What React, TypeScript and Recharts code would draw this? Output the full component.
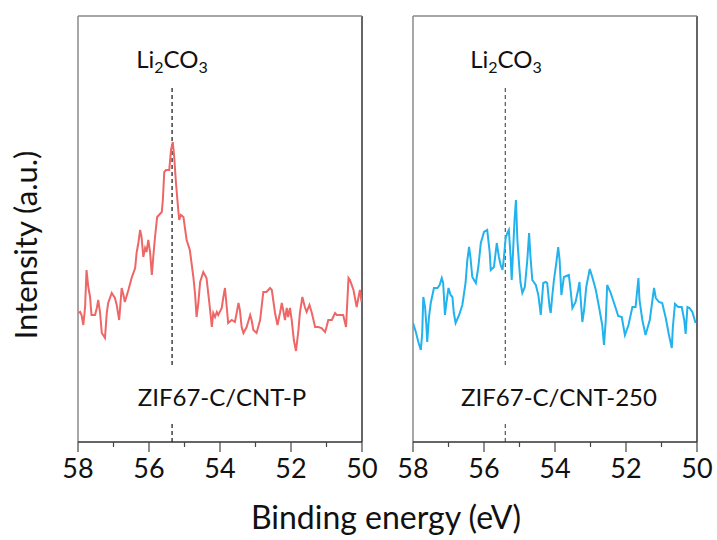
import React from "react";
import { LineChart, Line, XAxis, YAxis, ReferenceLine } from "recharts";

// Binding energy (eV) and intensity (a.u.)
const ENERGY_P = [57.99,57.94,57.90,57.85,57.80,57.76,57.71,57.66,57.62,57.52,57.47,57.43,57.38,57.33,57.24,57.19,57.15,57.05,56.96,56.91,56.84,56.77,56.72,56.68,56.58,56.49,56.39,56.35,56.30,56.25,56.21,56.16,56.11,56.07,56.02,55.97,55.92,55.88,55.83,55.77,55.64,55.61,55.57,55.52,55.43,55.38,55.33,55.29,55.24,55.20,55.15,55.10,55.03,54.94,54.85,54.75,54.70,54.66,54.61,54.56,54.47,54.38,54.30,54.23,54.19,54.14,54.09,54.05,53.95,53.91,53.86,53.81,53.77,53.67,53.58,53.53,53.48,53.44,53.39,53.34,53.25,53.15,53.11,53.06,52.97,52.87,52.78,52.69,52.59,52.54,52.45,52.38,52.31,52.26,52.22,52.17,52.12,52.08,52.03,51.98,51.92,51.86,51.79,51.75,51.68,51.61,51.56,51.48,51.42,51.32,51.23,51.14,51.04,51.00,50.95,50.85,50.76,50.71,50.62,50.53,50.45,50.38,50.34,50.24,50.15,50.06,50.01];
const INTENSITY_P = [129,130,127,117,135,172,155,145,127,127,134,142,130,109,104,129,139,149,144,137,122,154,147,140,152,164,174,189,199,212,205,185,194,190,202,190,167,185,205,225,230,242,270,272,272,292,300,285,259,242,222,227,225,202,192,165,147,125,139,160,170,164,139,115,129,125,130,127,134,144,154,135,119,122,120,129,139,132,115,109,115,127,122,112,109,122,150,150,154,152,129,117,129,139,132,122,134,125,134,122,102,91,112,129,145,135,130,137,130,115,115,114,110,115,122,122,129,127,127,127,115,164,162,152,135,152,140];

const ENERGY_250 = [58.00,57.92,57.85,57.78,57.74,57.71,57.66,57.62,57.60,57.55,57.50,57.41,57.31,57.25,57.19,57.15,57.10,57.06,57.00,56.94,56.89,56.85,56.80,56.70,56.61,56.52,56.47,56.42,56.38,56.33,56.23,56.16,56.09,56.00,55.91,55.84,55.81,55.72,55.64,55.58,55.53,55.48,55.44,55.39,55.34,55.30,55.25,55.22,55.17,55.14,55.10,55.06,55.01,54.97,54.92,54.85,54.78,54.73,54.69,54.64,54.54,54.47,54.40,54.38,54.33,54.26,54.22,54.15,54.12,54.08,54.03,53.96,53.91,53.87,53.82,53.75,53.61,53.56,53.51,53.42,53.35,53.31,53.23,53.18,53.12,53.02,52.95,52.85,52.76,52.67,52.62,52.57,52.53,52.44,52.29,52.22,52.12,52.03,51.93,51.82,51.73,51.65,51.62,51.54,51.45,51.33,51.21,51.16,51.07,50.98,50.88,50.79,50.71,50.68,50.62,50.53,50.43,50.36,50.32,50.27,50.21,50.13,50.04];
const INTENSITY_250 = [119,110,100,92,109,145,135,115,100,125,139,154,154,157,164,159,127,139,154,147,145,129,119,127,137,159,182,195,184,165,159,175,199,210,212,190,172,175,199,185,177,172,184,204,209,212,185,162,199,222,242,202,177,159,149,155,182,209,185,162,157,147,127,137,159,160,159,134,129,145,162,180,195,182,147,165,167,152,134,140,152,160,120,132,155,173,165,152,135,117,97,122,157,150,134,126,125,107,117,135,135,164,142,122,107,122,154,144,140,139,124,107,94,115,138,135,135,122,108,135,134,130,119];

const X_TICKS = [58, 57, 56, 55, 54, 53, 52, 51, 50];
const X_DOMAIN = [50, 58];
const Y_DOMAIN = [0, 426];
const LI2CO3_P = 55.35;
const LI2CO3_250 = 55.4;
const DASH_UPPER = [77, 355];
const DASH_LOWER = [0, 19];

const FONT = "Lato, 'Open Sans', sans-serif";

const toRows = (xs: number[], ys: number[]) => xs.map((e, i) => ({ e, v: ys[i] }));
const DATA_P = toRows(ENERGY_P, INTENSITY_P);
const DATA_250 = toRows(ENERGY_250, INTENSITY_250);

const Tick = (props: any) => {
  const { x, y, payload } = props;
  const major = payload.value % 2 === 0;
  return (
    <g>
      <line x1={x} x2={x} y1={y} y2={y + (major ? 10 : 5)} stroke="#444" strokeWidth={1.2} />
      {major && (
        <text x={x} y={y + 36} textAnchor="middle" fontFamily={FONT} fontSize={27} fill="#111">
          {payload.value}
        </text>
      )}
    </g>
  );
};

const Panel = ({ data, color, dashX, dashColor, margin, width }: any) => (
  <LineChart width={width} height={540} data={data} margin={margin}>
    <XAxis
      type="number"
      dataKey="e"
      domain={X_DOMAIN}
      reversed
      ticks={X_TICKS}
      interval={0}
      allowDataOverflow
      tickSize={0}
      tickMargin={0}
      tick={<Tick />}
      axisLine={{ stroke: "#333", strokeWidth: 1.3 }}
      tickLine={false}
      height={60}
    />
    <YAxis type="number" domain={Y_DOMAIN} hide width={0} allowDataOverflow />
    <ReferenceLine x={58} stroke="#8a8a8a" strokeWidth={1.5} />
    <ReferenceLine x={50} stroke="#333" strokeWidth={1.5} />
    <ReferenceLine y={426} stroke="#8a8a8a" strokeWidth={1.5} />
    <ReferenceLine
      segment={[{ x: dashX, y: DASH_UPPER[0] }, { x: dashX, y: DASH_UPPER[1] }]}
      stroke={dashColor}
      strokeDasharray="4 3"
      strokeWidth={1.2}
    />
    <ReferenceLine
      segment={[{ x: dashX, y: DASH_LOWER[0] }, { x: dashX, y: DASH_LOWER[1] }]}
      stroke={dashColor}
      strokeDasharray="4 3"
      strokeWidth={1.2}
    />
    <Line
      type="linear"
      dataKey="v"
      stroke={color}
      strokeWidth={2}
      dot={false}
      isAnimationActive={false}
    />
  </LineChart>
);

const Li2CO3 = ({ x }: { x: number }) => (
  <text x={x} y={68} textAnchor="middle" fontFamily={FONT} fontSize={24} fill="#111">
    Li<tspan dy={5} fontSize={16}>2</tspan>
    <tspan dy={-5}>CO</tspan>
    <tspan dy={5} fontSize={16}>3</tspan>
  </text>
);

export default function App() {
  return (
    <div style={{ position: "absolute", left: 0, top: 0, width: 717, height: 540, background: "#fff" }}>
      <div style={{ position: "absolute", left: 0, top: 0 }}>
        <Panel
          data={DATA_P}
          color="#ee6666"
          dashX={LI2CO3_P}
          dashColor="#111"
          width={380}
          margin={{ top: 16, left: 78, right: 18, bottom: 38 }}
        />
      </div>
      <div style={{ position: "absolute", left: 380, top: 0 }}>
        <Panel
          data={DATA_250}
          color="#22b2ee"
          dashX={LI2CO3_250}
          dashColor="#555"
          width={337}
          margin={{ top: 16, left: 33, right: 20, bottom: 38 }}
        />
      </div>
      <svg
        width={717}
        height={540}
        style={{ position: "absolute", left: 0, top: 0, pointerEvents: "none", overflow: "visible" }}
      >
        <Li2CO3 x={172} />
        <Li2CO3 x={506} />
        <text x={222} y={406} textAnchor="middle" fontFamily={FONT} fontSize={24} fill="#111">
          ZIF67-C/CNT-P
        </text>
        <text x={559} y={406} textAnchor="middle" fontFamily={FONT} fontSize={24} fill="#111">
          ZIF67-C/CNT-250
        </text>
        <text x={386} y={529} textAnchor="middle" fontFamily={FONT} fontSize={32} fill="#111">
          Binding energy (eV)
        </text>
        <text
          transform="translate(37,245) rotate(-90)"
          textAnchor="middle"
          fontFamily={FONT}
          fontSize={31}
          fill="#111"
        >
          Intensity (a.u.)
        </text>
      </svg>
    </div>
  );
}
